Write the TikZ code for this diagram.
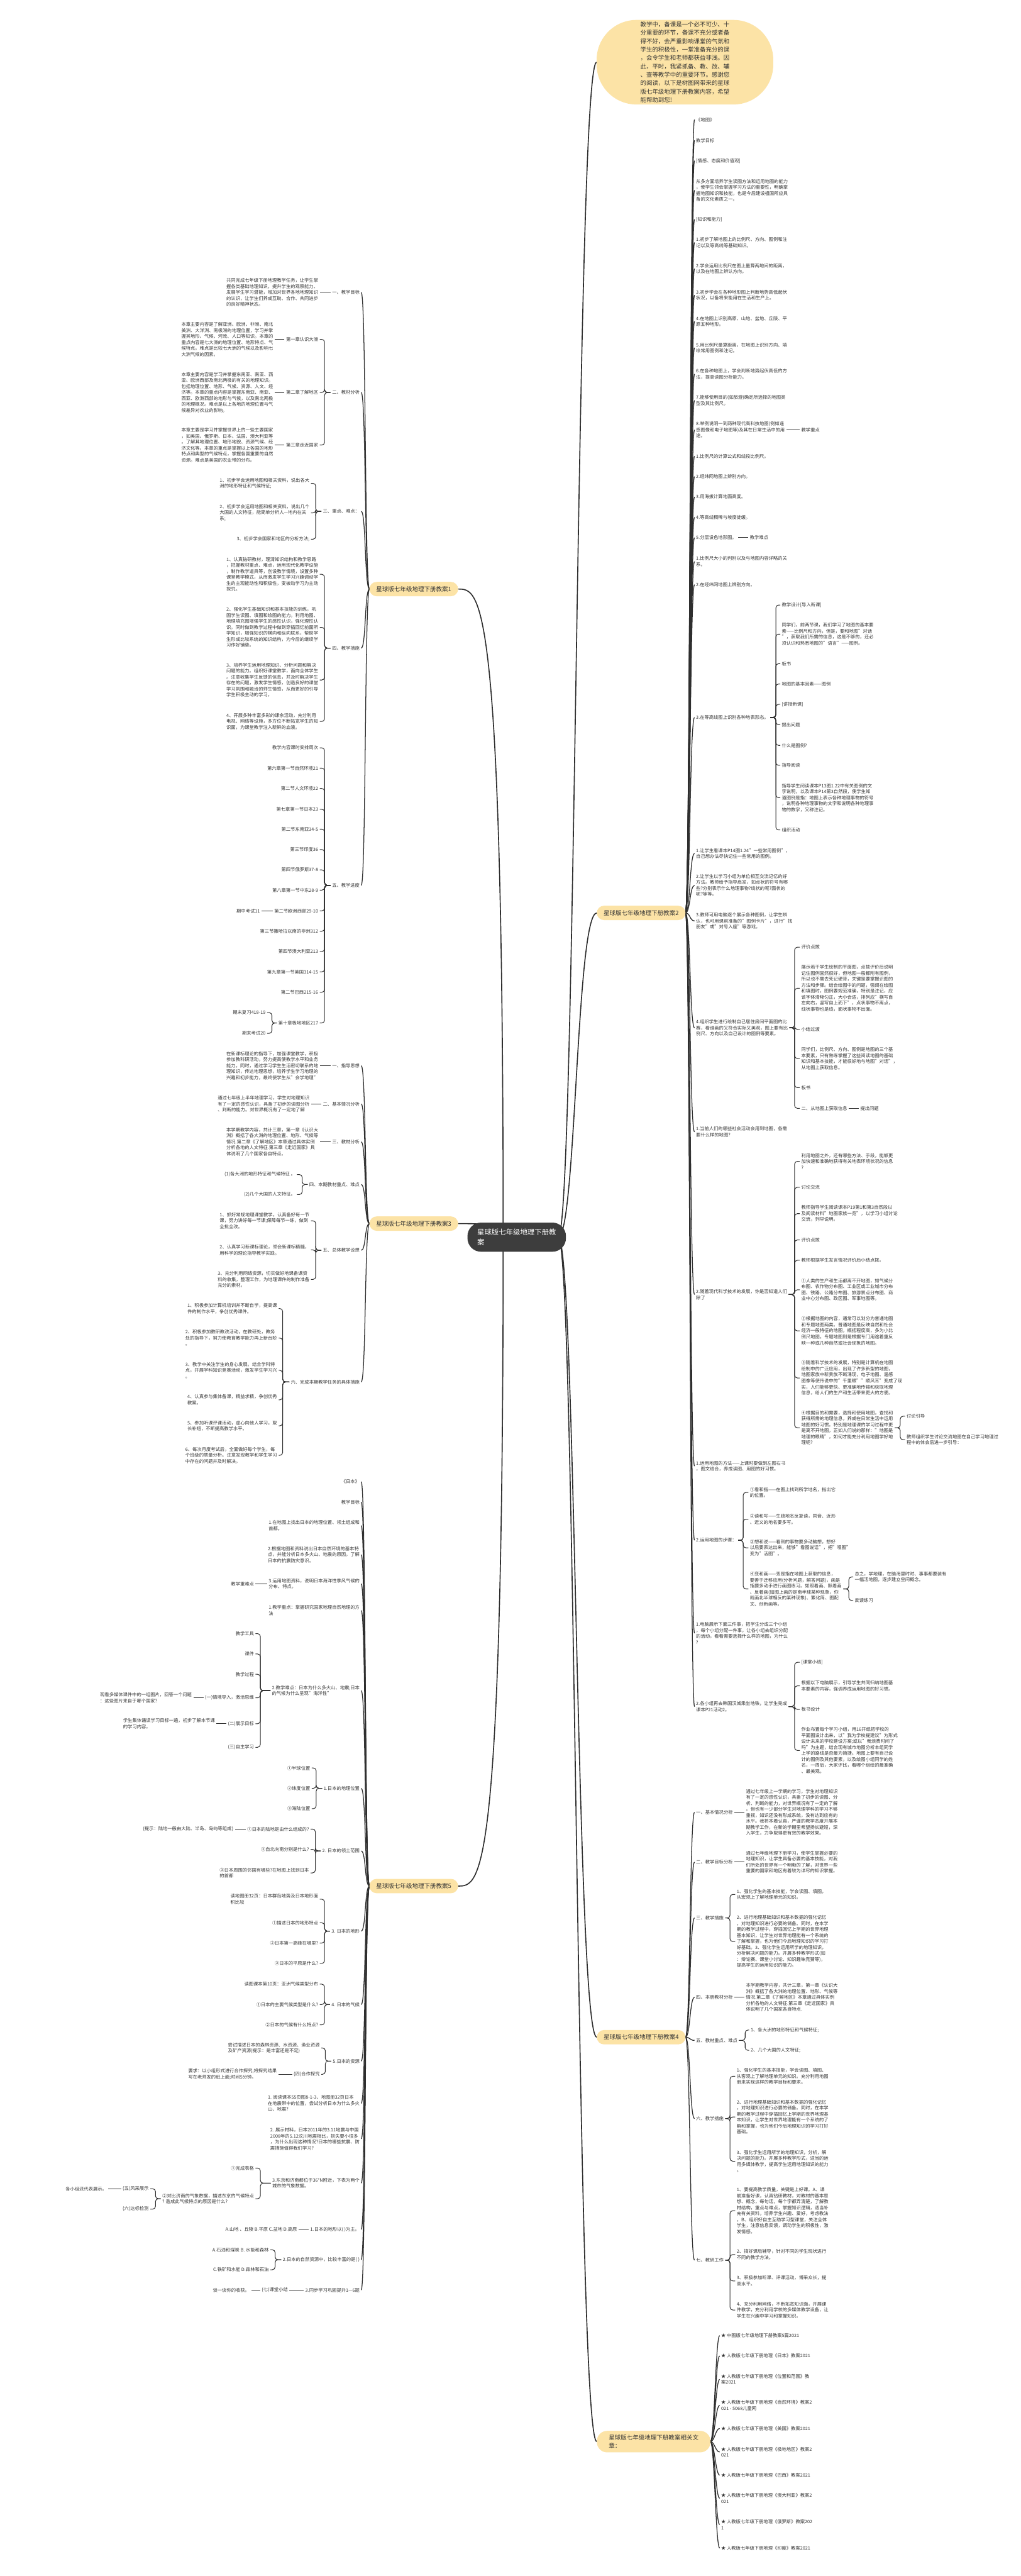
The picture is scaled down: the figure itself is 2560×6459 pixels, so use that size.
\documentclass[tikz,border=0pt]{standalone}
\usepackage{fontspec}
\setmainfont{Noto Sans CJK SC}
\usetikzlibrary{calc}
\definecolor{pillc}{HTML}{FCE3A6}
\definecolor{rootc}{HTML}{3D3D3D}
\definecolor{lnc}{HTML}{2E2E2E}
\definecolor{tc}{HTML}{333333}
\pgfdeclarelayer{lines}
\pgfsetlayers{lines,main}
\tikzset{
 txt/.style={font=\fontsize{11.5}{15}\selectfont, text=tc, align=left, inner sep=0pt, outer xsep=4pt, outer ysep=0pt},
 nr/.style={txt, anchor=west, xshift=-4pt},
 nl/.style={txt, anchor=east, xshift=4pt},
 pill/.style={fill=pillc, rounded corners=18pt, font=\fontsize{15}{19}\selectfont, text=tc, inner xsep=17pt, inner ysep=0pt, minimum height=36pt, outer sep=0pt},
 pilltwo/.style={fill=pillc, rounded corners=26pt, font=\fontsize{15}{21}\selectfont, text=tc, align=left, inner xsep=30pt, inner ysep=0pt, minimum height=54pt, outer sep=0pt},
 rootnode/.style={fill=rootc, text=white, rounded corners=34pt, font=\fontsize{18}{24}\selectfont, align=left, minimum width=247pt, minimum height=73pt, inner xsep=20pt, outer sep=0pt},
 bubble/.style={fill=pillc, rounded corners=100pt, font=\fontsize{14.9}{21}\selectfont, text=tc, align=left, minimum width=443pt, minimum height=212pt, outer sep=0pt},
 ln1/.style={draw=lnc, line width=2.6pt},
 ln2/.style={draw=lnc, line width=2pt},
 brk/.style={draw=lnc, line width=1.6pt, rounded corners=7pt},
}
\newcommand\SR[2]{\foreach \q in {#2}{\draw[ln2] (#1.east) .. controls +(12,0) and +(-12,0) .. (\q.west);}}
\newcommand\SL[2]{\foreach \q in {#2}{\draw[ln2] (#1.west) .. controls +(-12,0) and +(12,0) .. (\q.east);}}
\newcommand\BR[3]{\foreach \q in {#3}{\draw[brk] (#1.east) -- (#2,0 |- #1.east) |- (\q.west);}}
\newcommand\BL[3]{\foreach \q in {#3}{\draw[brk] (#1.west) -- (#2,0 |- #1.west) |- (\q.east);}}
\newcommand\DR[2]{\draw[brk] (#1.east) -- (#2.west);}
\newcommand\DL[2]{\draw[brk] (#1.west) -- (#2.east);}
\begin{document}
\begin{tikzpicture}[x=1pt,y=-1pt]
\useasboundingbox (0,0) rectangle (2560,6459);
\begin{pgfonlayer}{lines}\fill[white] (0,0) rectangle (2560,6459);\end{pgfonlayer}

% ---------- root, intro, branches ----------
\node[rootnode] (root) at (1296,3102) {星球版七年级地理下册教\\案};
\coordinate (rootL) at (1262,3102);
\coordinate (rootR) at (1400,3102);
\node[bubble] (intro) at (1718,156) {教学中，备课是一个必不可少、十\\分重要的环节，备课不充分或者备\\得不好，会严重影响课堂的气氛和\\学生的积极性，一堂准备充分的课\\，会令学生和老师都获益非浅。因\\此，平时，我紧抓备、教、改、辅\\、查等教学中的重要环节。感谢您\\的阅读，以下是树图网带来的星球\\版七年级地理下册教案内容，希望\\能帮助到您!};
\node[pill,anchor=east] (b1) at (1149,1477) {星球版七年级地理下册教案1};
\node[pill,anchor=west] (b2) at (1497,2289) {星球版七年级地理下册教案2};
\node[pill,anchor=east] (b3) at (1149,3068) {星球版七年级地理下册教案3};
\node[pill,anchor=west] (b4) at (1497,5108) {星球版七年级地理下册教案4};
\node[pill,anchor=east] (b5) at (1149,4729) {星球版七年级地理下册教案5};
\node[pilltwo,anchor=west] (b6) at (1497,6122) {星球版七年级地理下册教案相关文\\章：};

% ---------- 教案2 ----------
\node[nr] (n201) at (1746,300) {《地图》};
\node[nr] (n202) at (1746,352) {教学目标};
\node[nr] (n203) at (1746,403) {[情感、态度和价值观]};
\node[nr] (n204) at (1746,477) {从多方面培养学生读图方法和运用地图的能力\\，使学生领会掌握学习方法的重要性，明确掌\\握地图知识和技能，也是今后建设祖国所应具\\备的文化素质之一。};
\node[nr] (n205) at (1746,550) {[知识和能力]};
\node[nr] (n206) at (1746,608) {1.初步了解地图上的比例尺、方向、图例和注\\记以及等高线等基础知识。};
\node[nr] (n207) at (1746,674) {2.学会运用比例尺在图上量算两地间的距离，\\以及在地图上辨认方向。};
\node[nr] (n208) at (1746,740) {3.初步学会在各种地形图上判断地势高低起伏\\状况，以备将来能用在生活和生产上。};
\node[nr] (n209) at (1746,806) {4.在地图上识别高原、山地、盆地、丘陵、平\\原五种地形。};
\node[nr] (n210) at (1746,872) {5.用比例尺量算距离，在地图上识别方向、填\\绘常用图例和注记。};
\node[nr] (n211) at (1746,938) {6.在各种地图上，学会判断地势起伏高低的方\\法，提高读图分析能力。};
\node[nr] (n212) at (1746,1004) {7.能够使用目的(如旅游)确定所选择的地图类\\型及其比例尺。};
\node[nr] (n213) at (1746,1078) {8.举例说明一到两种现代高科技地图(例如遥\\感图像和电子地图等)及其在日常生活中的用\\途。};
\node[nr] (n213a) at (2010,1078) {教学重点};
\node[nr] (n214) at (1746,1144) {1.比例尺的计算公式和线段比例尺。};
\node[nr] (n215) at (1746,1195) {2.经纬网地图上辨别方向。};
\node[nr] (n216) at (1746,1246) {3.用海拔计算地面高度。};
\node[nr] (n217) at (1746,1297) {4.等高线稠稀与坡度徒缓。};
\node[nr] (n218) at (1746,1348) {5.分层设色地形图。};
\node[nr] (n218a) at (1881,1348) {教学难点};
\node[nr] (n219) at (1746,1408) {1.比例尺大小的判别以及与地图内容详略的关\\系。};
\node[nr] (n220) at (1746,1466) {2.在经纬网地图上辨别方向。};
\node[nr] (n221) at (1746,1799) {3.在等高线图上识别各种地表形态。};
\node[nr] (n221a) at (1961,1517) {教学设计[导入新课]};
\node[nr] (n221b) at (1961,1590) {同学们，前两节课，我们学习了地图的基本要\\素——比例尺和方向，但是，要和地图"对话\\"，获取我们所需的信息，这是不够的，还必\\须认识和熟悉地图的"语言"——图例。};
\node[nr] (n221c) at (1961,1664) {板书};
\node[nr] (n221d) at (1961,1715) {地图的基本因素——图例};
\node[nr] (n221e) at (1961,1766) {[讲授新课]};
\node[nr] (n221f) at (1961,1817) {提出问题};
\node[nr] (n221g) at (1961,1869) {什么是图例?};
\node[nr] (n221h) at (1961,1919) {指导阅读};
\node[nr] (n221i) at (1961,2000) {指导学生阅读课本P13图1.22中有关图例的文\\字说明，以及课本P14第3自然段，使学生知\\道图例是指：地图上表示各种地理事物的符号\\，说明各种地理事物的文字和说明各种地理事\\物的数字，又称注记。};
\node[nr] (n221j) at (1961,2081) {组织活动};
\node[nr] (n222) at (1746,2140) {1.让学生看课本P14图1.24"一些常用图例"，\\自己想办法尽快记住一些常用的图例。};
\node[nr] (n223) at (1746,2220) {2.让学生以学习小组为单位相互交流记忆的好\\方法。教师给予指导启发，如点状的符号有哪\\些?分别表示什么地理事物?线状的呢?面状的\\呢?等等。};
\node[nr] (n224) at (1746,2309) {3.教师可用电脑逐个展示各种图例，让学生辨\\认，也可用课前准备的"图例卡片"，进行"找\\朋友"或"对号入座"等游戏。};
\node[nr] (n225) at (1746,2577) {4.组织学生进行绘制自己居住房间平面图的比\\赛，看谁画的又符合实际又美观，图上要有比\\例尺、方向以及自己设计的图例等要素。};
\node[nr] (n225a) at (2010,2375) {评价点拨};
\node[nr] (n225b) at (2010,2478) {展示若干学生绘制的平面图，点拨评价后说明\\记住图例固然很好，但地图一般都附有图例，\\所以也不需去死记硬背，关键是要掌握识图的\\方法和步骤。结合绘图中的问题，强调在绘图\\和填图时，图例要规范准确，特别是注记，应\\该字体清晰匀正，大小合适，排列应"横写自\\左向右，竖写自上而下"，点状事物不离点，\\线状事物也是线，面状事物不出面。};
\node[nr] (n225c) at (2010,2581) {小结过渡};
\node[nr] (n225d) at (2010,2654) {同学们，比例尺、方向、图例是地图的三个基\\本要素，只有熟练掌握了这些阅读地图的基础\\知识和基本技能，才能很好地与地图"对话"，\\从地图上获取信息。};
\node[nr] (n225e) at (2010,2727) {板书};
\node[nr] (n225f) at (2010,2779) {二、从地图上获取信息};
\node[nr] (n225g) at (2158,2779) {提出问题};
\node[nr] (n226) at (1746,2838) {1.当前人们的哪些社会活动会用到地图，各需\\要什么样的地图?};
\node[nr] (n227) at (1746,3246) {2.随着现代科学技术的发展，你是否知道人们\\除了};
\node[nr] (n227a) at (2010,2912) {利用地图之外，还有哪些方法、手段，能够更\\加快速和准确地获得有关地表环境状况的信息\\?};
\node[nr] (n227b) at (2010,2977) {讨论交流};
\node[nr] (n227c) at (2010,3043) {教师指导学生阅读课本P19第1和第3自然段以\\及阅读材料"地图家族一览"，以学习小组讨论\\交流，列举说明。};
\node[nr] (n227d) at (2010,3109) {评价点拨};
\node[nr] (n227e) at (2010,3160) {教师根据学生发言情况评价后小结点拨。};
\node[nr] (n227f) at (2010,3234) {①人类的生产和生活都离不开地图，如气候分\\布图、农作物分布图、工业区或工业城市分布\\图、铁路、公路分布图、旅游景点分布图、商\\业中心分布图、政区图、军事地图等。};
\node[nr] (n227g) at (2010,3337) {②根据地图的内容，通常可以划分为普通地图\\和专题地图两类。普通地图是反映自然和社会\\经济一般特征的地图，概括程度高，多为小比\\例尺地图。专题地图则是根据专门用途着重反\\映一种或几种自然或社会现象的地图。};
\node[nr] (n227h) at (2010,3455) {③随着科学技术的发展，特别是计算机在地图\\绘制中的广泛应用，出现了许多新型的地图，\\地图家族中新贵族不断涌现，电子地图、遥感\\图像等使传说中的"千里眼""顺风耳"变成了现\\实，人们能够更快、更准确地传输和获取地理\\信息，给人们的生产和生活带来更大的方便。};
\node[nr] (n227i) at (2010,3580) {④根据目的和需要，选择和使用地图，查找和\\获得所需的地理信息，养成在日常生活中运用\\地图的好习惯。特别是地理课的学习过程中更\\是离不开地图，正如人们说的那样："地图是\\地理的眼睛"，如何才能充分利用地图学好地\\理呢?};
\node[nr] (n227j) at (2274,3551) {讨论引导};
\node[nr] (n227k) at (2274,3610) {教师组织学生讨论交流地图在自己学习地理过\\程中的体会后进一步引导：};
\node[nr] (n228) at (1746,3676) {1.运用地图的方法——上课时要做到左图右书\\，图文结合，养成读图、用图的好习惯。};
\node[nr] (n229) at (1746,3862) {2.运用地图的步骤：};
\node[nr] (n229a) at (1881,3742) {①看和指——在图上找到所学地名，指出它\\的位置。};
\node[nr] (n229b) at (1881,3809) {②读和写——生疏地名反复读，同音、近形\\、近义的地名要多写。};
\node[nr] (n229c) at (1881,3881) {③想和说——看到的事物要多动脑想，想好\\以后要表达出来，能够"看图说话"，把"哑图"\\变为"活图"。};
\node[nr] (n229d) at (1881,3984) {④变和画——变是指在地图上获取的信息，\\要善于迁移应用(分析问题，解答问题)，画是\\指要多动手进行画图练习。如照着画、默着画\\、反着画(如图上画的是南半球某种现象，你\\就画北半球相反的某种现象)、繁化简、图配\\文、创新画等。};
\node[nr] (n229e) at (2144,3954) {总之，学地理，在脑海里时时、事事都要装有\\一幅活地图，逐步建立空间概念。};
\node[nr] (n229f) at (2144,4013) {反馈练习};
\node[nr] (n230) at (1746,4095) {1.电脑展示下面三件事，把学生分成三个小组\\，每个小组分配一件事，让各小组去组织分配\\的活动，看看需要选择什么样的地图，为什么\\?};
\node[nr] (n231) at (1746,4279) {2.各小组再去韩国汉城乘坐地铁，让学生完成\\课本P21活动2。};
\node[nr] (n231a) at (2010,4168) {[课堂小结]};
\node[nr] (n231b) at (2010,4227) {根据以下电脑展示，引导学生共同归纳地图基\\本要素的内容，强调养成运用地图的好习惯。};
\node[nr] (n231c) at (2010,4286) {板书设计};
\node[nr] (n231d) at (2010,4389) {作业布置每个学习小组，用16开纸把学校的\\平面图设计出来，以"我为学校提建议"为形式\\设计未来的学校建设方案;或以"我浪费时间了\\吗"为主题，结合现有城市地图分析本组同学\\上学的路线是否最为简捷。地图上要有自己设\\计的图例及其他要素，以及绘图小组同学的姓\\名，一周后，大家评比，看哪个组绘的最准确\\、最美观。};

% ---------- 教案4 ----------
\node[nr] (n401) at (1746,4544) {一、基本情况分析};
\node[nr] (n401a) at (1871,4544) {通过七年级上一学期的学习，学生对地理知识\\有了一定的感性认识，具备了初步的读图、分\\析、判断的能力，对世界概况有了一定的了解\\。但也有一少部分学生对地理学科的学习不够\\重视，知识还没有形成系统，没有达到应有的\\水平。我将本着认真，严谨的教学态度开展本\\期教学工作，在新的学期里希望扬长避短，深\\入学生，力争取得更有效的教学效果。};
\node[nr] (n402) at (1746,4669) {二、教学目标分析};
\node[nr] (n402a) at (1871,4669) {通过七年级地理下册学习，使学生掌握必要的\\地理知识，让学生具备必要的基本技能，对我\\们所处的世界有一个明晰的了解，对世界一些\\重要的国家和地区有着较为详尽的知识掌握。};
\node[nr] (n403) at (1746,4809) {三、教学措施};
\node[nr] (n403a) at (1848,4750) {1、强化学生的基本技能，学会读图、填图，\\从宏观上了解地理单元的知识。};
\node[nr] (n403b) at (1848,4868) {2、进行地理基础知识和基本数据的强化记忆\\，对地理知识进行必要的储备。同时，在本学\\期的教学过程中，穿插回忆上学期的世界地理\\基本知识，让学生对世界地理能有一个系统的\\了解和掌握，也为他们今后地理知识的学习打\\好基础。3、强化学生运用所学的地理知识，\\分析解决问题的能力。开展多种教学形式(如\\：辩论赛、课堂小讨论、知识趣味竞猜等)，\\提高学生的运用知识的能力。};
\node[nr] (n404) at (1746,5008) {四、本册教材分析};
\node[nr] (n404a) at (1871,5008) {本学期教学内容，共计三章，第一章《认识大\\洲》概括了各大洲的地理位置、地形、气候等\\情况.第二章《了解地区》本章通过具体实例\\分析各地的人文特征.第三章《走近国家》具\\体说明了几个国家各自特点.};
\node[nr] (n405) at (1746,5116) {五、教材重点、难点};
\node[nr] (n405a) at (1883,5090) {1、各大洲的地形特征和气候特征;};
\node[nr] (n405b) at (1883,5141) {2、几个大国的人文特征;};
\node[nr] (n406) at (1746,5312) {六、教学措施};
\node[nr] (n406a) at (1848,5206) {1、强化学生的基本技能，学会读图、填图、\\从客观上了解地理单元的知识。充分利用地图\\册来实现这样的教学目标和要求。};
\node[nr] (n406b) at (1848,5308) {2、进行地理基础知识和基本数据的强化记忆\\，对地理知识进行必要的储备。同时，在本学\\期的教学过程中穿插回忆上学期的世界地理基\\本知识，让学生对世界地理能有一个系统的了\\解和掌握，也为他们今后地理知识的学习打好\\基础。};
\node[nr] (n406c) at (1848,5419) {3、强化学生运用所学的地理知识，分析，解\\决问题的能力。开展多种教学形式，适当的运\\用多媒体教学，提高学生运用地理知识的能力\\。};
\node[nr] (n407) at (1746,5667) {七、教研工作};
\node[nr] (n407a) at (1848,5543) {1、要提高教学质量，关键是上好课。A、课\\前准备好课，认真钻研教材，对教材的基本思\\想、概念，每句话，每个字都弄清楚，了解教\\材结构，重点与难点，掌握知识逻辑，适当补\\充有关资料，培养学生兴趣、爱好，考虑教法\\。B、组织好自主互助学习型课堂，关注全体\\学生，注意信息反馈，调动学生的积极性，激\\发情感。};
\node[nr] (n407b) at (1848,5653) {2、搞好课后辅导，针对不同的学生现状进行\\不同的教学方法。};
\node[nr] (n407c) at (1848,5719) {3、积极参加听课、评课活动，博采众长，提\\高水平。};
\node[nr] (n407d) at (1848,5792) {4、充分利用网络，不断拓宽知识面，开展课\\件教学，充分利用学校的多媒体教学设备，让\\学生在兴趣中学习和掌握知识。};

% ---------- 相关文章 ----------
\node[nr] (n601) at (1809,5856) {★ 中图版七年级地理下册教案5篇2021};
\node[nr] (n602) at (1809,5907) {★ 人教版七年级下册地理《日本》教案2021};
\node[nr] (n603) at (1809,5966) {★ 人教版七年级下册地理《位置和范围》教\\案2021};
\node[nr] (n604) at (1809,6031) {★ 人教版七年级下册地理《自然环境》教案2\\021 - 5068儿童网};
\node[nr] (n605) at (1809,6089) {★ 人教版七年级下册地理《美国》教案2021};
\node[nr] (n606) at (1809,6148) {★ 人教版七年级下册地理《极地地区》教案2\\021};
\node[nr] (n607) at (1809,6206) {★ 人教版七年级下册地理《巴西》教案2021};
\node[nr] (n608) at (1809,6264) {★ 人教版七年级下册地理《澳大利亚》教案2\\021};
\node[nr] (n609) at (1809,6330) {★ 人教版七年级下册地理《俄罗斯》教案202\\1};
\node[nr] (n610) at (1809,6389) {★ 人教版七年级下册地理《印度》教案2021};

% ---------- 教案1 ----------
\node[nl] (n101) at (902,733) {一、教学目标};
\node[nl] (n101a) at (798,733) {共同完成七年级下册地理教学任务，让学生掌\\握各类基础地理知识，提升学生的观察能力、\\发展学生学习潜能，增加对世界各地地理知识\\的认识，让学生们养成互助、合作、共同进步\\的良好精神状态。};
\node[nl] (n102) at (902,984) {二、教材分析};
\node[nl] (n102a) at (798,851) {第一章认识大洲};
\node[nl] (n102b) at (798,984) {第二章了解地区};
\node[nl] (n102c) at (798,1116) {第三章走近国家};
\node[nl] (n102d) at (685,851) {本章主要内容是了解亚洲、欧洲、非洲、南北\\美洲、大洋洲、南极洲的地理位置，学习并掌\\握其地形、气候、河流、人口等知识。本章的\\重点内容是七大洲的地理位置、地形特点、气\\候特点。难点是比较七大洲的气候以及影响七\\大洲气候的因素。};
\node[nl] (n102e) at (685,984) {本章主要内容是学习并掌握东南亚、南亚、西\\亚、欧洲西部及南北两极的有关的地理知识。\\包括地理位置、地形、气候、资源、人文、经\\济等。本章的重点内容是掌握东南亚、南亚、\\西亚、欧洲西部的地形与气候，以及南北两极\\的地理概况。难点是以上各地的地理位置与气\\候差异对农业的影响。};
\node[nl] (n102f) at (685,1116) {本章主要是学习并掌握世界上的一些主要国家\\，如美国、俄罗斯、日本、法国、澳大利亚等\\。了解其地理位置、地形地貌、资源气候、经\\济文化等。本章的重点是掌握以上各国的地形\\特点和典型的气候特点，掌握各国重要的自然\\资源。难点是美国的农业带的分布。};
\node[nl] (n103) at (902,1282) {三、重点、难点：};
\node[nl] (n103a) at (776,1212) {1、初步学会运用地图和相关资料，说出各大\\洲的地形特征和气候特征;};
\node[nl] (n103b) at (776,1286) {2、初步学会运用地图和相关资料，说出几个\\大国的人文特征，能简单分析人—地内在关\\系;};
\node[nl] (n103c) at (776,1352) {3、初步学会国家和地区的分析方法;};
\node[nl] (n104) at (902,1625) {四、教学措施};
\node[nl] (n104a) at (798,1440) {1、认真钻研教材，理清知识结构和教学思路\\，把握教材重点、难点，运用现代化教学设施\\，制作教学道具等，创设教学情境，设置多种\\课堂教学模式，从而激发学生学习兴趣调动学\\生的主观能动性和积极性，变被动学习为主动\\探究。};
\node[nl] (n104b) at (798,1573) {2、强化学生基础知识和基本技能的训练，巩\\固学生读图、填图和绘图的能力。利用地图、\\地理填充图增强学生的感性认识，强化理性认\\识。同时做到教学过程中做到穿插回忆前面所\\学知识，增强知识的横向和纵向联系，帮助学\\生形成比较系统的知识结构，为今后的继续学\\习作好铺垫。};
\node[nl] (n104c) at (798,1705) {3、培养学生运用地理知识、分析问题和解决\\问题的能力。组织好课堂教学，面向全体学生\\。注意收集学生反馈的信息，并及时解决学生\\存在的问题，激发学生情感，创造良好的课堂\\学习氛围和融洽的师生情感，从而更好的引导\\学生积极主动的学习。};
\node[nl] (n104d) at (798,1809) {4、开展多种丰富多彩的课余活动，充分利用\\电视、网络等设施，多方位不断拓宽学生的知\\识面，为课堂教学注入新鲜的血液。};
\node[nl] (n105) at (902,2220) {五、教学进度};
\node[nl] (n105a) at (798,1875) {教学内容课时安排周次};
\node[nl] (n105b) at (798,1926) {第六章第一节自然环境21};
\node[nl] (n105c) at (798,1977) {第二节人文环境22};
\node[nl] (n105d) at (798,2029) {第七章第一节日本23};
\node[nl] (n105e) at (798,2079) {第二节东南亚34-5};
\node[nl] (n105f) at (798,2130) {第三节印度36};
\node[nl] (n105g) at (798,2181) {第四节俄罗斯37-8};
\node[nl] (n105h) at (798,2232) {第八章第一节中东28-9};
\node[nl] (n105i) at (798,2284) {第二节欧洲西部29-10};
\node[nl] (n105i1) at (652,2284) {期中考试11};
\node[nl] (n105j) at (798,2335) {第三节撒哈拉以南的非洲312};
\node[nl] (n105k) at (798,2386) {第四节澳大利亚213};
\node[nl] (n105l) at (798,2437) {第九章第一节美国314-15};
\node[nl] (n105m) at (798,2488) {第二节巴西215-16};
\node[nl] (n105n) at (798,2565) {第十章极地地区217};
\node[nl] (n105n1) at (666,2539) {期末复习418-19};
\node[nl] (n105n2) at (666,2591) {期末考试20};

% ---------- 教案3 ----------
\node[nl] (n301) at (902,2672) {一、指导思想};
\node[nl] (n301a) at (798,2672) {在新课标理论的指导下，加强课堂教学，积极\\参加教科研活动，努力提高使教学水平和业务\\能力。同时，通过学习学生生活密切联系的地\\理知识，传达地理思想，培养学生学习地理的\\兴趣和初步能力，最终使学生从"会学地理"};
\node[nl] (n302) at (902,2768) {二、基本情况分析};
\node[nl] (n302a) at (776,2768) {通过七年级上半年地理学习，学生对地理知识\\有了一定的感性认识，具备了初步的读图分析\\、判断的能力。对世界概况有了一定地了解};
\node[nl] (n303) at (902,2863) {三、教材分析};
\node[nl] (n303a) at (798,2863) {本学期教学内容，共计三章，第一章《认识大\\洲》概括了各大洲的地理位置、地形、气候等\\情况.第二章《了解地区》本章通过具体实例\\分析各地的人文特征.第三章《走近国家》具\\体说明了几个国家各自特点。};
\node[nl] (n304) at (902,2970) {四、本期教材重点、难点};
\node[nl] (n304a) at (741,2945) {(1)各大洲的地形特征和气候特征 。};
\node[nl] (n304b) at (741,2995) {(2)几个大国的人文特征。};
\node[nl] (n305) at (902,3135) {五、总体教学设想};
\node[nl] (n305a) at (776,3061) {1、抓好常规地理课堂教学。认真备好每一节\\课，努力讲好每一节课;保障每节一练，做到\\全批全改。};
\node[nl] (n305b) at (776,3134) {2、认真学习新课标理论，领会新课标精髓，\\用科学的理论指导教学实践。};
\node[nl] (n305c) at (776,3208) {3、充分利用网络资源，切实做好地课备课资\\料的收集，整理工作，为地理课件的制作准备\\充分的素材。};
\node[nl] (n306) at (902,3465) {六、完成本期教学任务的具体措施};
\node[nl] (n306a) at (695,3281) {1、积极参加计算机培训并不断自学，提高课\\件的制作水平，争创优秀课件。};
\node[nl] (n306b) at (695,3355) {2、积极参加教研教改活动，在教研处，教务\\处的指导下，努力使教育教学能力再上新台阶\\。};
\node[nl] (n306c) at (695,3436) {3、教学中关注学生的身心发展。结合学科特\\点，开展学科知识竞赛活动，激发学生学习兴\\。};
\node[nl] (n306d) at (695,3510) {4、认真参与集体备课，精益求精，争创优秀\\教案。};
\node[nl] (n306e) at (695,3575) {5、参加听课评课活动，虚心向他人学习，取\\长补短，不断提高教学水平。};
\node[nl] (n306f) at (695,3649) {6、每次月度考试后，全面做好每个学生，每\\个班级的质量分析。注意发现教学和学生学习\\中存在的问题并及时解决。};

% ---------- 教案5 ----------
\node[nl] (n501) at (902,3715) {《日本》};
\node[nl] (n502) at (902,3766) {教学目标};
\node[nl] (n503) at (902,3825) {1.在地图上找出日本的地理位置、领土组成和\\首都。};
\node[nl] (n504) at (902,3898) {2.根据地图和资料说出日本自然环境的基本特\\点，并能分析日本多火山、地震的原因。了解\\日本的抗震防灾意识。};
\node[nl] (n505) at (902,3971) {3.运用地图资料，说明日本海洋性季风气候的\\分布、特点。};
\node[nl] (n505a) at (637,3971) {教学重难点};
\node[nl] (n506) at (902,4038) {1.教学重点：掌握研究国家地理自然地理的方\\法};
\node[nl] (n507) at (902,4239) {2.教学难点：日本为什么多火山、地震;日本\\的气候为什么呈现"海洋性"};
\node[nl] (n507a) at (637,4096) {教学工具};
\node[nl] (n507b) at (637,4147) {课件};
\node[nl] (n507c) at (637,4198) {教学过程};
\node[nl] (n507d) at (637,4257) {(一)情境导入，激活思维};
\node[nl] (n507d1) at (481,4257) {观看多媒体课件中的一组图片，回答一个问题\\：这些图片来自于哪个国家?};
\node[nl] (n507e) at (637,4322) {(二)展示目标};
\node[nl] (n507e1) at (539,4322) {学生集体诵读学习目标一遍，初步了解本节课\\的学习内容。};
\node[nl] (n507f) at (637,4381) {(三)自主学习};
\node[nl] (n508) at (902,4484) {1.日本的地理位置};
\node[nl] (n508a) at (778,4433) {①半球位置};
\node[nl] (n508b) at (778,4484) {②纬度位置};
\node[nl] (n508c) at (778,4535) {③海陆位置};
\node[nl] (n509) at (902,4641) {2. 日本的领土范围};
\node[nl] (n509a) at (775,4586) {①日本的陆地是由什么组成的?};
\node[nl] (n509a1) at (585,4586) {(提示：陆地一般由大陆、半岛、岛屿等组成)};
\node[nl] (n509b) at (775,4637) {②自北向南分别是什么?};
\node[nl] (n509c) at (775,4696) {③日本周围的邻国有哪些?在地图上找到日本\\的首都};
\node[nl] (n510) at (902,4842) {3. 日本的地形};
\node[nl] (n510a) at (798,4762) {读地图册32页：日本群岛地势及日本地形面\\积比较};
\node[nl] (n510b) at (798,4821) {①描述日本的地形特点};
\node[nl] (n510c) at (798,4872) {②日本第一高峰在哪里?};
\node[nl] (n510d) at (798,4923) {③日本的平原是什么?};
\node[nl] (n511) at (902,5026) {4. 日本的气候};
\node[nl] (n511a) at (798,4975) {读图课本第10页：亚洲气候类型分布};
\node[nl] (n511b) at (798,5026) {①日本的主要气候类型是什么?};
\node[nl] (n511c) at (798,5077) {②日本的气候有什么特点?};
\node[nl] (n512) at (902,5168) {5.日本的资源};
\node[nl] (n512a) at (802,5135) {尝试描述日本的森林资源、水资源、渔业资源\\及矿产资源(提示：是丰富还是不足)};
\node[nl] (n512b) at (802,5201) {(四)合作探究};
\node[nl] (n512b1) at (694,5201) {要求：以小组形式进行合作探究;将探究结果\\写在老师发的纸上面;时间5分钟。};
\node[nl] (n513) at (902,5274) {1. 阅读课本55页图8-1-3、地图册32页日本\\在地震带中的位置，尝试分析日本为什么多火\\山、地震?};
\node[nl] (n514) at (902,5363) {2. 展示材料，日本2011年的3.11地震与中国\\2008年的5.12汶川地震相比，损失要小很多\\，为什么出现这种情况?日本的哪些抗震、防\\震措施值得我们学习?};
\node[nl] (n515) at (902,5474) {3.东京和济南都位于36°N附近，下表为两个\\城市的气象数据。};
\node[nl] (n515a) at (637,5436) {①完成表格};
\node[nl] (n515b) at (637,5513) {②对比济南的气象数据，描述东京的气候特点\\? 造成此气候特点的原因是什么?};
\node[nl] (n515b1) at (373,5488) {(五)风采展示};
\node[nl] (n515b1a) at (268,5488) {各小组派代表展示。};
\node[nl] (n515b2) at (373,5539) {(六)达标检测};
\node[nl] (n516) at (902,5590) {1.日本的地形以( )为主。};
\node[nl] (n516a) at (745,5590) {A.山地 、丘陵 B.平原 C.盆地 D.高原};
\node[nl] (n517) at (902,5666) {2.日本的自然资源中，比较丰富的是( )};
\node[nl] (n517a) at (674,5641) {A.石油和煤炭 B. 水能和森林};
\node[nl] (n517b) at (674,5691) {C.铁矿和水能 D.森林和石油};
\node[nl] (n518) at (902,5742) {3.同步学习巩固提升1—6题};
\node[nl] (n518a) at (722,5742) {(七)课堂小结};
\node[nl] (n518b) at (626,5742) {谈一谈你的收获。};

% ---------- connectors ----------
\begin{pgfonlayer}{lines}
\draw[ln1] (rootR) .. controls (1445,3102) and (1445,156) .. (intro.west);
\draw[ln1] (rootR) .. controls (1445,3102) and (1445,2289) .. (b2.west);
\draw[ln1] (rootR) .. controls (1445,3102) and (1445,5108) .. (b4.west);
\draw[ln1] (rootR) .. controls (1445,3102) and (1445,6122) .. (b6.west);
\draw[ln1] (rootL) .. controls (1262,1477) and (1205,1477) .. (b1.east);
\draw[ln1] (rootL) .. controls (1262,3068) and (1205,3068) .. (b3.east);
\draw[ln1] (rootL) .. controls (1262,4729) and (1205,4729) .. (b5.east);

\SR{b2}{n201,n202,n203,n204,n205,n206,n207,n208,n209,n210,n211,n212,n213,n214,n215,n216,n217,n218,n219,n220,n221,n222,n223,n224,n225,n226,n227,n228,n229,n230,n231}
\SR{b4}{n401,n402,n403,n404,n405,n406,n407}
\foreach \q in {n601,n602,n603,n604,n605,n606,n607,n608,n609,n610}{\draw[ln2] (b6.east) .. controls +(10,0) and +(-10,0) .. (\q.west);}
\SL{b1}{n101,n102,n103,n104,n105}
\SL{b3}{n301,n302,n303,n304,n305,n306}
\SL{b5}{n501,n502,n503,n504,n505,n506,n507,n508,n509,n510,n511,n512,n513,n514,n515,n516,n517,n518}

\DR{n213}{n213a}
\DR{n218}{n218a}
\BR{n221}{1946}{n221a,n221b,n221c,n221d,n221e,n221f,n221g,n221h,n221i,n221j}
\BR{n225}{1993}{n225a,n225b,n225c,n225d,n225e,n225f}
\DR{n225f}{n225g}
\BR{n227}{1993}{n227a,n227b,n227c,n227d,n227e,n227f,n227g,n227h,n227i}
\BR{n227i}{2258}{n227j,n227k}
\BR{n229}{1864}{n229a,n229b,n229c,n229d}
\BR{n229d}{2129}{n229e,n229f}
\BR{n231}{1993}{n231a,n231b,n231c,n231d}

\DR{n401}{n401a}
\DR{n402}{n402a}
\BR{n403}{1831}{n403a,n403b}
\DR{n404}{n404a}
\BR{n405}{1869}{n405a,n405b}
\BR{n406}{1831}{n406a,n406b,n406c}
\BR{n407}{1831}{n407a,n407b,n407c,n407d}

\DL{n101}{n101a}
\BL{n102}{814}{n102a,n102b,n102c}
\DL{n102a}{n102d}
\DL{n102b}{n102e}
\DL{n102c}{n102f}
\BL{n103}{792}{n103a,n103b,n103c}
\BL{n104}{814}{n104a,n104b,n104c,n104d}
\BL{n105}{814}{n105a,n105b,n105c,n105d,n105e,n105f,n105g,n105h,n105i,n105j,n105k,n105l,n105m,n105n}
\DL{n105i}{n105i1}
\BL{n105n}{682}{n105n1,n105n2}

\DL{n301}{n301a}
\DL{n302}{n302a}
\DL{n303}{n303a}
\BL{n304}{758}{n304a,n304b}
\BL{n305}{792}{n305a,n305b,n305c}
\BL{n306}{709}{n306a,n306b,n306c,n306d,n306e,n306f}

\DL{n505}{n505a}
\BL{n507}{653}{n507a,n507b,n507c,n507d,n507e,n507f}
\DL{n507d}{n507d1}
\DL{n507e}{n507e1}
\BL{n508}{793}{n508a,n508b,n508c}
\BL{n509}{791}{n509a,n509b,n509c}
\DL{n509a}{n509a1}
\BL{n510}{814}{n510a,n510b,n510c,n510d}
\BL{n511}{814}{n511a,n511b,n511c}
\BL{n512}{816}{n512a,n512b}
\DL{n512b}{n512b1}
\BL{n515}{653}{n515a,n515b}
\BL{n515b}{390}{n515b1,n515b2}
\DL{n515b1}{n515b1a}
\DL{n516}{n516a}
\BL{n517}{690}{n517a,n517b}
\DL{n518}{n518a}
\DL{n518a}{n518b}
\end{pgfonlayer}
\end{tikzpicture}
\end{document}
